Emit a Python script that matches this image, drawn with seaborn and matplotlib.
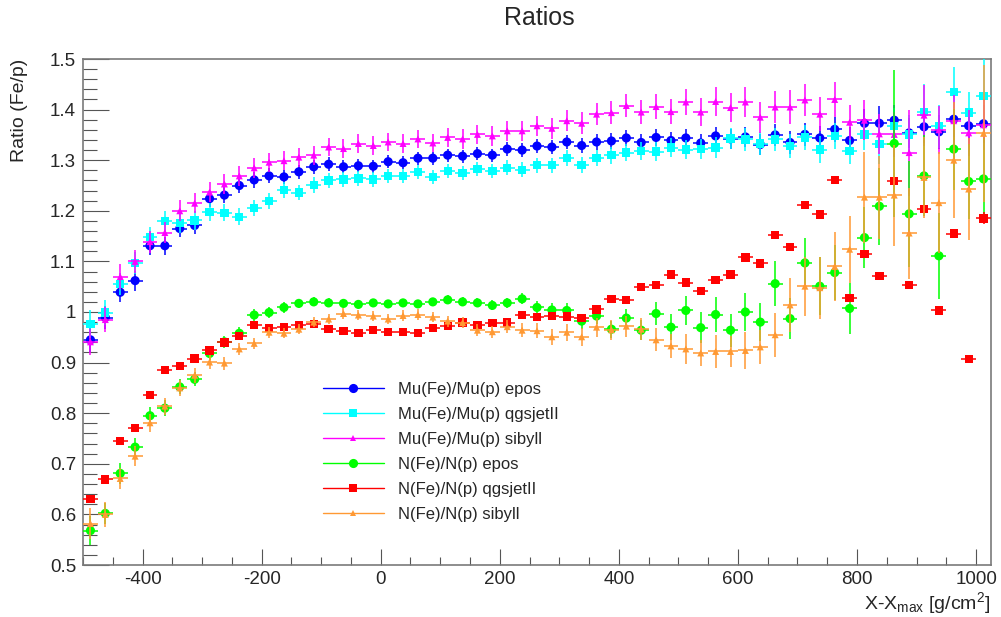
import numpy as np
import pandas as pd
import matplotlib
matplotlib.use("Agg")
import matplotlib.pyplot as plt
import seaborn as sns
from matplotlib.lines import Line2D
from matplotlib.ticker import MultipleLocator, FormatStrFormatter

# ---------------- data ----------------
bin_width = 25.0
x_centers = np.arange(-487.5, 1025.0, bin_width)  # 61 bins from -500 to 1025

mu_epos = [0.945, 0.989, 1.039, 1.062, 1.131, 1.131, 1.165, 1.171, 1.224, 1.231, 1.250, 1.261, 1.269, 1.267, 1.277, 1.287, 1.292, 1.287, 1.289,
           1.288, 1.297, 1.295, 1.304, 1.304, 1.310, 1.308, 1.313, 1.310, 1.322, 1.320, 1.328, 1.326, 1.336, 1.329, 1.336, 1.338, 1.344, 1.335, 1.345,
           1.339, 1.344, 1.334, 1.348, 1.342, 1.346, 1.331, 1.350, 1.335, 1.351, 1.344, 1.361, 1.339, 1.373, 1.373, 1.379, 1.354, 1.366, 1.356, 1.381, 1.368, 1.372]
mu_epos_err = [0.025, 0.022, 0.02, 0.02, 0.018, 0.018, 0.017, 0.016, 0.016, 0.016,
               0.015, 0.015, 0.015, 0.014, 0.014, 0.014, 0.014, 0.013, 0.013, 0.013,
               0.013, 0.013, 0.013, 0.013, 0.013, 0.013, 0.013, 0.013, 0.013, 0.014,
               0.014, 0.014, 0.014, 0.015, 0.015, 0.015, 0.015, 0.016, 0.016, 0.017,
               0.017, 0.018, 0.018, 0.019, 0.02, 0.02, 0.021, 0.022, 0.023, 0.024,
               0.025, 0.026, 0.028, 0.035, 0.03, 0.03, 0.032, 0.034, 0.035, 0.036, 0.038]

mu_qgs = [0.976, 0.999, 1.055, 1.097, 1.148, 1.180, 1.176, 1.181, 1.198, 1.196, 1.188, 1.206, 1.219, 1.241, 1.236, 1.251, 1.260, 1.262, 1.264,
          1.262, 1.269, 1.269, 1.277, 1.267, 1.279, 1.275, 1.283, 1.279, 1.285, 1.281, 1.290, 1.290, 1.305, 1.290, 1.305, 1.310, 1.315, 1.318, 1.317,
          1.325, 1.321, 1.322, 1.325, 1.343, 1.341, 1.333, 1.341, 1.328, 1.345, 1.321, 1.348, 1.318, 1.351, 1.332, 1.368, 1.351, 1.395, 1.367, 1.435, 1.394, 1.427]
mu_qgs_err = [0.028, 0.025, 0.022, 0.022, 0.02, 0.02, 0.019, 0.018, 0.018, 0.017,
              0.017, 0.016, 0.016, 0.015, 0.015, 0.015, 0.015, 0.014, 0.014, 0.014,
              0.014, 0.014, 0.014, 0.014, 0.014, 0.014, 0.014, 0.014, 0.015, 0.015,
              0.015, 0.015, 0.016, 0.016, 0.016, 0.017, 0.017, 0.018, 0.018, 0.019,
              0.019, 0.02, 0.02, 0.021, 0.022, 0.022, 0.023, 0.024, 0.025, 0.026,
              0.025, 0.025, 0.03, 0.04, 0.035, 0.038, 0.055, 0.043, 0.05, 0.04, 0.075]

mu_sib = [0.941, 0.985, 1.070, 1.100, 1.139, 1.157, 1.200, 1.215, 1.237, 1.253, 1.269, 1.285, 1.296, 1.299, 1.306, 1.310, 1.326, 1.323, 1.333,
          1.329, 1.336, 1.333, 1.342, 1.334, 1.345, 1.342, 1.351, 1.348, 1.358, 1.358, 1.368, 1.363, 1.378, 1.373, 1.391, 1.394, 1.408, 1.395, 1.406,
          1.396, 1.415, 1.395, 1.416, 1.404, 1.415, 1.385, 1.405, 1.405, 1.419, 1.391, 1.420, 1.375, 1.379, 1.352, 1.351, 1.315, 1.389, 1.360, 1.378, 1.354, 1.370]
mu_sib_err = [0.025, 0.025, 0.024, 0.023, 0.022, 0.021, 0.021, 0.02, 0.02, 0.02,
              0.02, 0.02, 0.019, 0.019, 0.019, 0.019, 0.018, 0.018, 0.018, 0.018,
              0.018, 0.018, 0.018, 0.018, 0.019, 0.019, 0.019, 0.02, 0.02, 0.02,
              0.02, 0.021, 0.021, 0.022, 0.022, 0.023, 0.023, 0.024, 0.025, 0.025,
              0.026, 0.027, 0.028, 0.029, 0.03, 0.031, 0.032, 0.033, 0.032, 0.033,
              0.034, 0.035, 0.04, 0.04, 0.045, 0.085, 0.06, 0.047, 0.05, 0.045, 0.05]

n_epos = [0.568, 0.602, 0.681, 0.733, 0.795, 0.810, 0.852, 0.867, 0.918, 0.941, 0.958, 0.994, 0.999, 1.009, 1.017, 1.020, 1.018, 1.017, 1.015,
          1.018, 1.016, 1.018, 1.016, 1.020, 1.024, 1.020, 1.018, 1.013, 1.018, 1.026, 1.009, 1.004, 1.003, 0.982, 0.992, 0.966, 0.988, 0.964, 0.997,
          0.970, 1.003, 0.969, 0.995, 0.964, 1.000, 0.980, 1.056, 0.987, 1.097, 1.051, 1.078, 1.007, 1.147, 1.209, 1.333, 1.194, 1.269, 1.111, 1.322, 1.258, 1.263]
n_epos_err = [0.028, 0.02, 0.02, 0.018, 0.017, 0.016, 0.015, 0.014, 0.013, 0.012,
              0.012, 0.011, 0.01, 0.01, 0.009, 0.009, 0.009, 0.008, 0.008, 0.008,
              0.008, 0.008, 0.008, 0.008, 0.009, 0.009, 0.009, 0.01, 0.01, 0.011,
              0.012, 0.013, 0.014, 0.015, 0.016, 0.017, 0.018, 0.02, 0.023, 0.026,
              0.029, 0.031, 0.035, 0.033, 0.038, 0.038, 0.044, 0.041, 0.05, 0.057,
              0.054, 0.05, 0.06, 0.076, 0.145, 0.105, 0.08, 0.085, 0.08, 0.075, 0.08]

n_qgs = [0.630, 0.669, 0.745, 0.771, 0.836, 0.885, 0.893, 0.908, 0.924, 0.940, 0.953, 0.974, 0.969, 0.971, 0.974, 0.976, 0.966, 0.962, 0.959,
         0.964, 0.961, 0.961, 0.958, 0.968, 0.972, 0.979, 0.974, 0.978, 0.979, 0.994, 0.990, 0.992, 0.991, 0.988, 1.005, 1.026, 1.024, 1.050, 1.053,
         1.074, 1.058, 1.042, 1.063, 1.074, 1.108, 1.096, 1.152, 1.128, 1.212, 1.193, 1.261, 1.028, 1.115, 1.071, 1.259, 1.053, 1.203, 1.003, 1.155, 0.907, 1.185]
n_qgs_err = [0.008, 0.006, 0.005, 0.005, 0.005, 0.005, 0.004, 0.004, 0.004, 0.004,
             0.004, 0.004, 0.004, 0.004, 0.004, 0.004, 0.004, 0.004, 0.004, 0.004,
             0.004, 0.004, 0.004, 0.004, 0.004, 0.004, 0.004, 0.004, 0.004, 0.004,
             0.004, 0.004, 0.005, 0.005, 0.005, 0.005, 0.005, 0.005, 0.005, 0.005,
             0.005, 0.005, 0.005, 0.006, 0.006, 0.006, 0.006, 0.006, 0.006, 0.006,
             0.006, 0.006, 0.006, 0.007, 0.007, 0.007, 0.007, 0.008, 0.008, 0.008, 0.012]

n_sib = [0.582, 0.600, 0.671, 0.715, 0.781, 0.814, 0.850, 0.875, 0.901, 0.899, 0.927, 0.938, 0.960, 0.958, 0.966, 0.980, 0.986, 0.997, 0.994,
         0.992, 0.986, 0.993, 0.995, 0.990, 0.982, 0.979, 0.964, 0.961, 0.971, 0.964, 0.963, 0.951, 0.960, 0.951, 0.970, 0.965, 0.972, 0.966, 0.945,
         0.933, 0.927, 0.919, 0.922, 0.922, 0.924, 0.931, 0.955, 1.014, 1.051, 1.048, 1.090, 1.124, 1.227, 1.227, 1.231, 1.156, 1.266, 1.216, 1.300, 1.243, 1.353]
n_sib_err = [0.03, 0.025, 0.02, 0.02, 0.018, 0.017, 0.016, 0.015, 0.014, 0.013,
             0.012, 0.011, 0.011, 0.01, 0.01, 0.01, 0.01, 0.01, 0.01, 0.01,
             0.01, 0.01, 0.01, 0.01, 0.011, 0.011, 0.012, 0.012, 0.013, 0.014,
             0.015, 0.016, 0.017, 0.018, 0.019, 0.02, 0.021, 0.022, 0.023, 0.023,
             0.03, 0.026, 0.033, 0.031, 0.036, 0.033, 0.043, 0.053, 0.058, 0.061,
             0.069, 0.066, 0.09, 0.082, 0.1, 0.09, 0.08, 0.1, 0.115, 0.1, 0.135]

series_labels = ["Mu(Fe)/Mu(p) epos", "Mu(Fe)/Mu(p) qgsjetII", "Mu(Fe)/Mu(p) sibyll",
                 "N(Fe)/N(p) epos", "N(Fe)/N(p) qgsjetII", "N(Fe)/N(p) sibyll"]
series_values = [mu_epos, mu_qgs, mu_sib, n_epos, n_qgs, n_sib]
series_errors = [mu_epos_err, mu_qgs_err, mu_sib_err, n_epos_err, n_qgs_err, n_sib_err]

# ---------------- style ----------------
colors = ["#0000ff", "#00ffff", "#ff00ff", "#00ff00", "#ff0000", "#ff9933"]
markers = ["o", "s", "^", "o", "s", "^"]
msizes = [6.6, 6.0, 5.0, 6.6, 6.0, 5.0]

sns.set_style("white")
plt.rcParams["font.family"] = ["Liberation Sans", "DejaVu Sans"]
plt.rcParams["mathtext.default"] = "regular"

fig = plt.figure(figsize=(10.01, 6.17), dpi=100)
W, H = 1001.0, 617.0
ax = fig.add_axes([83 / W, (H - 565) / H, 908 / W, 506 / H])

frames = []
for lab, vals, errs in zip(series_labels, series_values, series_errors):
    frames.append(pd.DataFrame({"x": x_centers, "y": vals, "err": errs, "series": lab}))
df = pd.concat(frames, ignore_index=True)

for k, lab in enumerate(series_labels):
    d = df[df["series"] == lab]
    ax.errorbar(d["x"], d["y"], xerr=bin_width / 2, yerr=d["err"], fmt="none",
                ecolor=colors[k], elinewidth=1.1, capsize=0, zorder=2 + 2 * k)
    sns.scatterplot(data=d, x="x", y="y", marker=markers[k], color=colors[k],
                    s=msizes[k] ** 2, edgecolor="none", linewidth=0, legend=False,
                    ax=ax, zorder=3 + 2 * k)

ax.set_xlim(-500, 1025)
ax.set_ylim(0.5, 1.5)
ax.set_xlabel("")
ax.set_ylabel("")

ax.xaxis.set_major_locator(MultipleLocator(200))
ax.xaxis.set_minor_locator(MultipleLocator(50))
ax.yaxis.set_major_locator(MultipleLocator(0.1))
ax.yaxis.set_minor_locator(MultipleLocator(0.02))
ax.yaxis.set_major_formatter(FormatStrFormatter("%g"))
ax.xaxis.set_major_formatter(FormatStrFormatter("%g"))

ax.tick_params(axis="y", which="major", direction="in", length=19, width=0.8, color="#555555",
               labelsize=13.5, pad=5, left=True, right=False)
ax.tick_params(axis="y", which="minor", direction="in", length=10, width=0.8, color="#555555",
               left=True, right=False)
ax.tick_params(axis="x", which="major", direction="in", length=11.5, width=0.8, color="#555555",
               labelsize=13.5, pad=4, bottom=True, top=False)
ax.tick_params(axis="x", which="minor", direction="in", length=6, width=0.8, color="#555555",
               bottom=True, top=False)

for sp in ax.spines.values():
    sp.set_visible(True)
    sp.set_color("#7a7a7a")
    sp.set_linewidth(1.2)

fig.text(539 / W, 1 - 18 / H, "Ratios", ha="center", va="center", fontsize=18)
fig.text(20 / W, 1 - 59 / H, "Ratio (Fe/p)", ha="center", va="top", rotation=90, fontsize=14)
fig.text(990 / W, 1 - 603 / H, "X-X$_{max}$ [g/cm$^{2}$]", ha="right", va="center", fontsize=14)

handles = [Line2D([0], [0], color=colors[k], marker=markers[k], markersize=msizes[k],
                  lw=1.0, markeredgewidth=0) for k in range(6)]
ax.legend(handles, series_labels, loc="upper left", bbox_to_anchor=((323 - 83) / 908, (565 - 382) / 506),
          frameon=False, fontsize=12, handlelength=3.65, handletextpad=0.84,
          labelspacing=0.6, borderpad=0, borderaxespad=0)

fig.savefig("out.png", dpi=100)
